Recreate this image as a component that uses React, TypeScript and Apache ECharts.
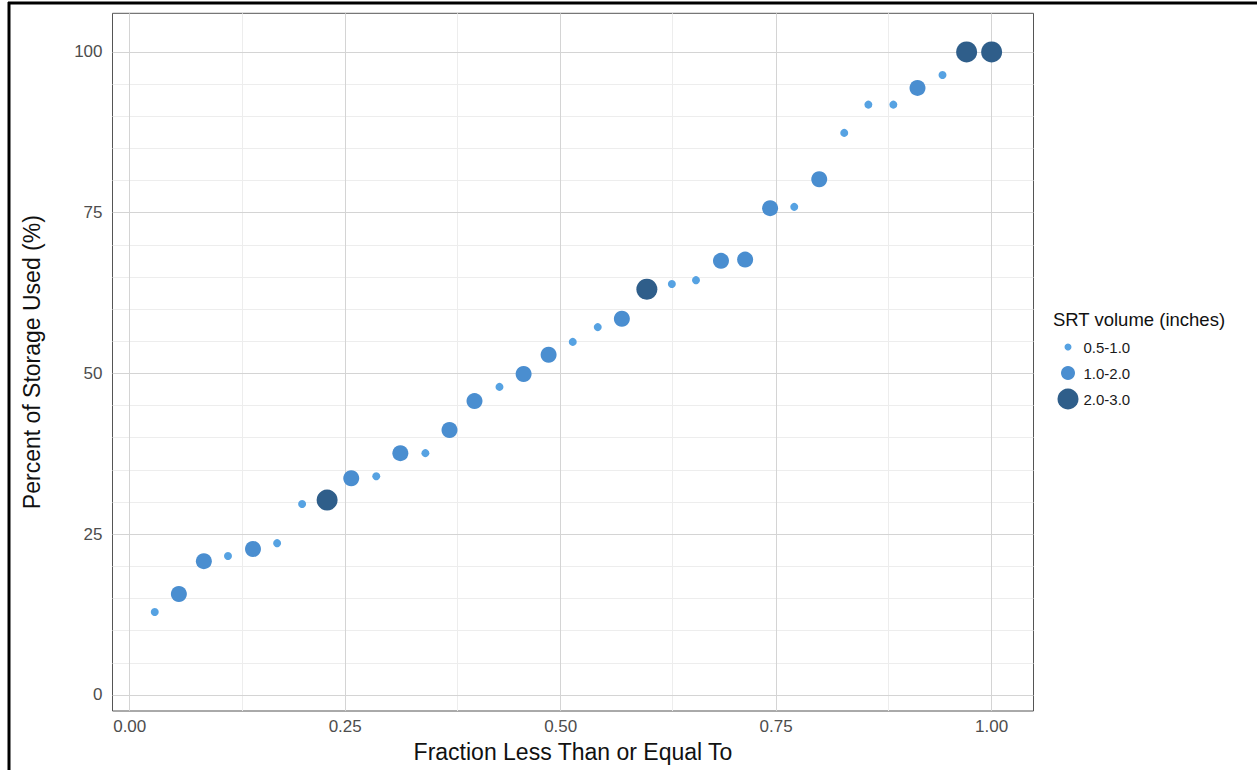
import React, { useEffect, useRef } from "react";
import * as echarts from "echarts";

// ---- data ----
const fraction = [
  0.029, 0.057, 0.086, 0.114, 0.143, 0.171, 0.2, 0.229, 0.257, 0.286, 0.314, 0.343,
  0.371, 0.4, 0.429, 0.457, 0.486, 0.514, 0.543, 0.571, 0.6, 0.629, 0.657, 0.686,
  0.714, 0.743, 0.771, 0.8, 0.829, 0.857, 0.886, 0.914, 0.943, 0.971, 1.0,
];
const storagePct = [
  12.9, 15.7, 20.8, 21.6, 22.7, 23.6, 29.7, 30.3, 33.7, 34.0, 37.6, 37.6,
  41.2, 45.7, 47.9, 49.9, 52.9, 54.9, 57.2, 58.5, 63.1, 63.9, 64.5, 67.5,
  67.7, 75.7, 75.9, 80.2, 87.4, 91.8, 91.8, 94.4, 96.4, 100, 100,
];
const srtClass = [
  "0.5-1.0", "1.0-2.0", "1.0-2.0", "0.5-1.0", "1.0-2.0", "0.5-1.0", "0.5-1.0", "2.0-3.0",
  "1.0-2.0", "0.5-1.0", "1.0-2.0", "0.5-1.0", "1.0-2.0", "1.0-2.0", "0.5-1.0", "1.0-2.0",
  "1.0-2.0", "0.5-1.0", "0.5-1.0", "1.0-2.0", "2.0-3.0", "0.5-1.0", "0.5-1.0", "1.0-2.0",
  "1.0-2.0", "1.0-2.0", "0.5-1.0", "1.0-2.0", "0.5-1.0", "0.5-1.0", "0.5-1.0", "1.0-2.0",
  "0.5-1.0", "2.0-3.0", "2.0-3.0",
];
const classNames = ["0.5-1.0", "1.0-2.0", "2.0-3.0"];
const xTicks = [0, 0.25, 0.5, 0.75, 1];
const xMinor = [0.125, 0.375, 0.625, 0.875];
const yTicks = [0, 25, 50, 75, 100];
const yMinor = [5, 10, 15, 20, 30, 35, 40, 45, 55, 60, 65, 70, 80, 85, 90, 95];

// ---- styles ----
const FONT = "Liberation Sans, Arial, sans-serif";
const classColor: Record<string, string> = {
  "0.5-1.0": "#56a2e2",
  "1.0-2.0": "#4a8ed0",
  "2.0-3.0": "#2f5e8a",
};
const classSize: Record<string, number> = {
  "0.5-1.0": 8,
  "1.0-2.0": 16,
  "2.0-3.0": 21,
};
const legendIconSize: Record<string, number> = {
  "0.5-1.0": 7,
  "1.0-2.0": 14,
  "2.0-3.0": 21,
};
const legendTop: Record<string, number> = {
  "0.5-1.0": 339.5,
  "1.0-2.0": 365.5,
  "2.0-3.0": 388.5,
};

export default function App() {
  const ref = useRef<HTMLDivElement>(null);

  useEffect(() => {
    if (!ref.current) return;
    const chart = echarts.init(ref.current, undefined, { renderer: "svg" });

    const gridLineData = [
      ...xMinor.map((v) => ({ xAxis: v, lineStyle: { color: "#ededed", width: 1, type: "solid" } })),
      ...yMinor.map((v) => ({ yAxis: v, lineStyle: { color: "#ededed", width: 1, type: "solid" } })),
      ...xTicks.map((v) => ({ xAxis: v, lineStyle: { color: "#d4d4d4", width: 1, type: "solid" } })),
      ...yTicks.map((v) => ({ yAxis: v, lineStyle: { color: "#d4d4d4", width: 1, type: "solid" } })),
    ];

    const pointSeries = classNames.map((cls) => ({
      name: cls,
      type: "scatter",
      z: 5,
      symbol: "circle",
      symbolSize: classSize[cls],
      itemStyle: { color: classColor[cls], opacity: 1 },
      data: fraction
        .map((x, i) => [x, storagePct[i], srtClass[i]])
        .filter((d) => d[2] === cls)
        .map((d) => [d[0], d[1]]),
    }));

    const option: any = {
      animation: false,
      backgroundColor: "#ffffff",
      textStyle: { fontFamily: FONT },
      title: {
        text: "SRT volume (inches)",
        left: 1053,
        top: 310,
        padding: 0,
        textStyle: { fontFamily: FONT, fontSize: 18.5, fontWeight: "normal", color: "#111" },
      },
      legend: classNames.map((cls) => ({
        data: [cls],
        left: 1057.5 + (21 - legendIconSize[cls]) / 2,
        top: legendTop[cls],
        padding: 0,
        itemWidth: 21,
        itemHeight: legendIconSize[cls],
        icon: "circle",
        selectedMode: false,
        textStyle: { fontFamily: FONT, fontSize: 15, color: "#1a1a1a" },
      })),
      grid: {
        left: 112.5,
        right: 223.5,
        top: 13.3,
        bottom: 59,
        show: true,
        borderColor: "#555555",
        borderWidth: 1,
        backgroundColor: "#ffffff",
        containLabel: false,
      },
      xAxis: {
        type: "value",
        min: -0.02,
        max: 1.0486,
        name: "Fraction Less Than or Equal To",
        nameLocation: "middle",
        nameGap: 29,
        nameTextStyle: { fontFamily: FONT, fontSize: 23, color: "#111" },
        axisLine: { show: false },
        splitLine: { show: false },
        axisTick: {
          show: true,
          length: 4,
          customValues: xTicks,
          lineStyle: { color: "#333", width: 1 },
        },
        axisLabel: {
          customValues: xTicks,
          margin: 7,
          fontFamily: FONT,
          fontSize: 17,
          color: "#4d4d4d",
          formatter: (v: number) => v.toFixed(2),
        },
      },
      yAxis: {
        type: "value",
        min: -2.5,
        max: 106,
        name: "Percent of Storage Used (%)",
        nameLocation: "middle",
        nameGap: 69,
        nameTextStyle: { fontFamily: FONT, fontSize: 23, color: "#111" },
        axisLine: { show: false },
        splitLine: { show: false },
        axisTick: {
          show: true,
          length: 4,
          customValues: yTicks,
          lineStyle: { color: "#333", width: 1 },
        },
        axisLabel: {
          customValues: yTicks,
          margin: 10,
          fontFamily: FONT,
          fontSize: 17,
          color: "#4d4d4d",
          formatter: (v: number) => String(Math.round(v)),
        },
      },
      graphic: [
        {
          type: "line",
          shape: { x1: 8, y1: 3, x2: 1257, y2: 3 },
          style: { stroke: "#000", lineWidth: 3 },
          silent: true,
        },
        {
          type: "line",
          shape: { x1: 9, y1: 2, x2: 9, y2: 770 },
          style: { stroke: "#000", lineWidth: 3 },
          silent: true,
        },
      ],
      series: [
        {
          name: "grid",
          type: "scatter",
          z: 1,
          data: [],
          symbolSize: 0,
          silent: true,
          markLine: {
            silent: true,
            symbol: ["none", "none"],
            label: { show: false },
            emphasis: { disabled: true },
            animation: false,
            data: gridLineData,
          },
        },
        ...pointSeries,
      ],
    };

    chart.setOption(option);
    return () => chart.dispose();
  }, []);

  return (
    <div
      ref={ref}
      style={{ position: "fixed", left: 0, top: 0, width: 1257, height: 770 }}
    />
  );
}
